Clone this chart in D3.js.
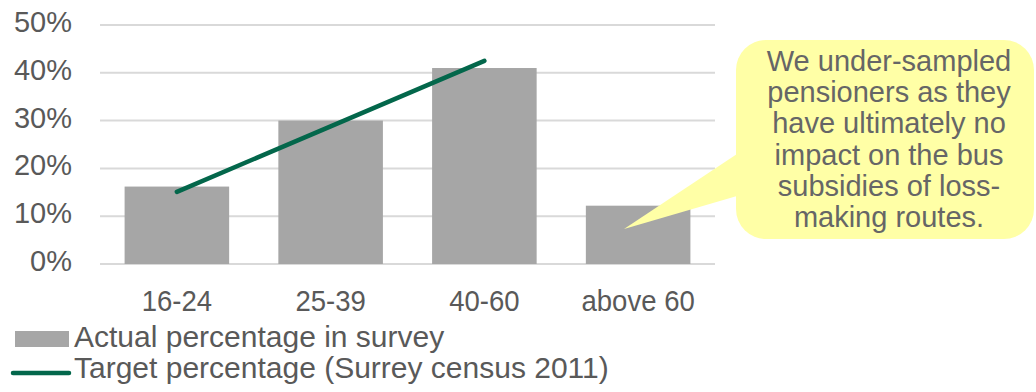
<!DOCTYPE html>
<html>
<head>
<meta charset="utf-8">
<script src="https://cdn.jsdelivr.net/npm/d3@7"></script>
<style>
  body { margin: 0; background: #fff; }
  text { font-family: "Liberation Sans", Arial, sans-serif; fill: #595959; }
</style>
</head>
<body>
<div id="content"></div>
<script>
var categories = ["16-24", "25-39", "40-60", "above 60"];
var actualValues = [0.162, 0.30, 0.41, 0.122];
var targetValues = [0.151, 0.288, 0.425, null];
var yTicks = [0, 0.1, 0.2, 0.3, 0.4, 0.5];
var seriesNames = ["Actual percentage in survey", "Target percentage (Surrey census 2011)"];
var noteLines = ["We under-sampled", "pensioners as they", "have ultimately no", "impact on the bus", "subsidies of loss-", "making routes."];

var width = 1036;
var height = 392;

var svg = d3.select("#content").append("svg").attr("width", width).attr("height", height);

var xScale = d3.scaleBand()
    .domain(categories)
    .range([100, 715])
    .paddingInner(0.32)
    .paddingOuter(0.16);

var yScale = d3.scaleLinear()
    .domain([0, 0.5])
    .range([264, 25]);

svg.append("g")
    .selectAll("line")
    .data(yTicks)
    .enter()
    .append("line")
    .attr("x1", 100)
    .attr("x2", 715)
    .attr("y1", d => yScale(d))
    .attr("y2", d => yScale(d))
    .attr("stroke", "#d9d9d9")
    .attr("stroke-width", 2);

svg.append("g")
    .selectAll("text")
    .data(yTicks)
    .enter()
    .append("text")
    .attr("x", 72)
    .attr("y", d => yScale(d) + 7)
    .style("text-anchor", "end")
    .style("font-size", "29px")
    .text(d => d3.format(".0%")(d));

svg.append("g")
    .selectAll("rect")
    .data(actualValues)
    .enter()
    .append("rect")
    .attr("x", (d, i) => xScale(categories[i]))
    .attr("y", d => yScale(d))
    .attr("width", xScale.bandwidth())
    .attr("height", d => yScale(0) - yScale(d))
    .attr("fill", "#a6a6a6");

var line = d3.line()
    .defined(d => d != null)
    .x((d, i) => xScale(categories[i]) + xScale.bandwidth() / 2)
    .y(d => yScale(d));

svg.append("path")
    .datum(targetValues)
    .attr("d", line)
    .attr("fill", "none")
    .attr("stroke", "#03674b")
    .attr("stroke-width", 4.5)
    .attr("stroke-linecap", "round");

svg.append("g")
    .selectAll("text")
    .data(categories)
    .enter()
    .append("text")
    .attr("x", d => xScale(d) + xScale.bandwidth() / 2)
    .attr("y", 311)
    .style("text-anchor", "middle")
    .style("font-size", "29px")
    .attr("transform", d => {
        var cx = xScale(d) + xScale.bandwidth() / 2;
        return `translate(${cx}, 0) scale(0.95, 1) translate(${-cx}, 0)`;
    })
    .text(d => d);

// callout
var note = svg.append("g");

note.append("rect")
    .attr("x", 736)
    .attr("y", 40)
    .attr("width", 298)
    .attr("height", 199)
    .attr("rx", 30)
    .attr("fill", "#ffffa6");

note.append("path")
    .attr("d", "M737,154 L624,229 L737,196 Z")
    .attr("fill", "#ffffa6");

note.selectAll("text")
    .data(noteLines)
    .enter()
    .append("text")
    .attr("x", 889)
    .attr("y", (d, i) => 71 + i * 31.2)
    .style("text-anchor", "middle")
    .style("font-size", "29px")
    .style("fill", "#666666")
    .text(d => d);

// legend
var legend = svg.append("g");

legend.append("rect")
    .attr("x", 15)
    .attr("y", 331)
    .attr("width", 54)
    .attr("height", 16)
    .attr("fill", "#a6a6a6");

legend.append("line")
    .attr("x1", 13)
    .attr("x2", 69)
    .attr("y1", 373)
    .attr("y2", 373)
    .attr("stroke", "#03674b")
    .attr("stroke-width", 4.5)
    .attr("stroke-linecap", "round");

legend.selectAll("text")
    .data(seriesNames)
    .enter()
    .append("text")
    .attr("x", 74)
    .attr("y", (d, i) => 347 + i * 31)
    .style("font-size", "30px")
    .text(d => d);
</script>
</body>
</html>
